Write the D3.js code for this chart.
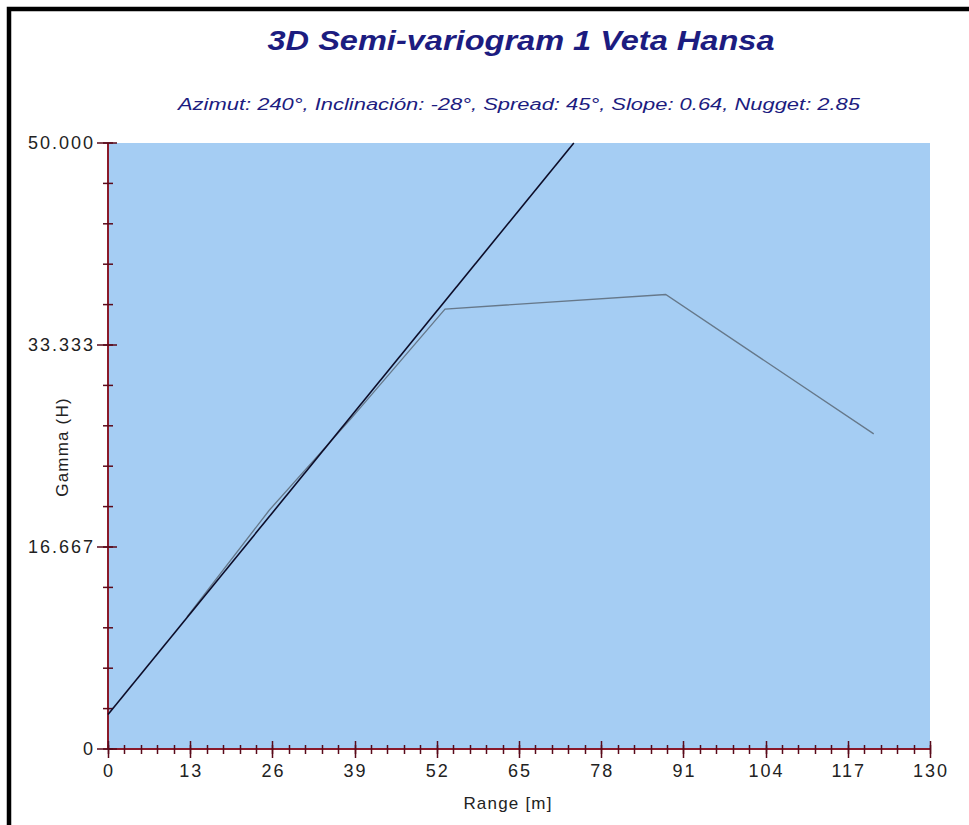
<!DOCTYPE html>
<html>
<head>
<meta charset="utf-8">
<script src="https://cdn.jsdelivr.net/npm/d3@7"></script>
<style>
  html, body { margin: 0; padding: 0; background: #ffffff; }
  svg { display: block; }
  text { font-family: "Liberation Sans", Arial, sans-serif; }
</style>
</head>
<body>
<svg id="chart" width="969" height="825"></svg>
<script>
// Semi-variogram data
const rangeTicks = [0, 13, 26, 39, 52, 65, 78, 91, 104, 117, 130];
const gammaTicks = [0, 16.667, 33.333, 50];
const gammaTickLabels = ["0", "16.667", "33.333", "50.000"];

// experimental semi-variogram (lag distance vs gamma)
const lagRange = [12.5, 25.5, 38.5, 53.3, 88.2, 121.1];
const lagGamma = [10.9, 19.7, 27.3, 36.3, 37.5, 26.0];

// fitted linear model: nugget 2.85, slope 0.64, drawn up to the top of the axis
const modelRange = [0, 73.67];
const modelGamma = [2.85, 50];

const titleText = "3D Semi-variogram 1 Veta Hansa";
const subtitleText = "Azimut: 240°, Inclinación: -28°, Spread: 45°, Slope: 0.64, Nugget: 2.85";

const svg = d3.select("#chart");

const plot = { left: 108, right: 930, top: 143, bottom: 749 };
const x = d3.scaleLinear().domain([0, 130]).range([plot.left, plot.right]);
const y = d3.scaleLinear().domain([0, 50]).range([plot.bottom, plot.top]);

// outer frame (thick black border on top and left)
svg.append("rect").attr("x", 9).attr("y", 9).attr("width", 970).attr("height", 830)
  .attr("fill", "none").attr("stroke", "#000").attr("stroke-width", 4.5);

// plot background
svg.append("rect")
  .attr("x", plot.left).attr("y", plot.top)
  .attr("width", plot.right - plot.left).attr("height", plot.bottom - plot.top)
  .attr("fill", "#a5cdf3");

// titles
const title = svg.append("text")
  .attr("x", 521).attr("y", 50).attr("text-anchor", "middle")
  .attr("font-size", 28).attr("font-weight", "bold").attr("font-style", "italic")
  .attr("fill", "#1c1c80").text(titleText);
const subtitle = svg.append("text")
  .attr("x", 519).attr("y", 110).attr("text-anchor", "middle")
  .attr("font-size", 16).attr("font-style", "italic")
  .attr("fill", "#1c1c80").text(subtitleText);

// axes
const axisColor = "#8a1a2a";
const tickColor = "#5a0a1a";

const xMinor = d3.range(0, 130.001, 2.6);
const yMinor = d3.range(0, 50.001, 50 / 15);

const axes = svg.append("g");
axes.append("line").attr("x1", plot.left).attr("x2", plot.right)
  .attr("y1", plot.bottom).attr("y2", plot.bottom)
  .attr("stroke", axisColor).attr("stroke-width", 2);
axes.append("line").attr("x1", plot.left).attr("x2", plot.left)
  .attr("y1", plot.top).attr("y2", plot.bottom)
  .attr("stroke", axisColor).attr("stroke-width", 2);

axes.selectAll("line.xminor").data(xMinor).join("line")
  .attr("class", "xminor")
  .attr("x1", d => Math.round(x(d)) + 0.5).attr("x2", d => Math.round(x(d)) + 0.5)
  .attr("y1", plot.bottom - 4).attr("y2", plot.bottom + 5)
  .attr("stroke", tickColor).attr("stroke-width", 1.5);
axes.selectAll("line.xmajor").data(rangeTicks).join("line")
  .attr("class", "xmajor")
  .attr("x1", d => Math.round(x(d)) + 0.5).attr("x2", d => Math.round(x(d)) + 0.5)
  .attr("y1", plot.bottom - 8).attr("y2", plot.bottom + 9)
  .attr("stroke", tickColor).attr("stroke-width", 1.5);

axes.selectAll("line.yminor").data(yMinor).join("line")
  .attr("class", "yminor")
  .attr("x1", plot.left - 5).attr("x2", plot.left + 5)
  .attr("y1", d => y(d)).attr("y2", d => y(d))
  .attr("stroke", tickColor).attr("stroke-width", 1.5);
axes.selectAll("line.ymajor").data(gammaTicks).join("line")
  .attr("class", "ymajor")
  .attr("x1", plot.left - 11).attr("x2", plot.left + 9)
  .attr("y1", d => y(d)).attr("y2", d => y(d))
  .attr("stroke", tickColor).attr("stroke-width", 1.5);

// tick labels
const labelColor = "#222222";
svg.selectAll("text.xlab").data(rangeTicks).join("text")
  .attr("class", "xlab")
  .attr("x", d => x(d) + 1).attr("y", plot.bottom + 28)
  .attr("text-anchor", "middle").attr("font-size", 18).attr("letter-spacing", 2)
  .attr("fill", labelColor).text(d => d);
svg.selectAll("text.ylab").data(gammaTicks).join("text")
  .attr("class", "ylab")
  .attr("x", plot.left - 13).attr("y", d => y(d) + 6)
  .attr("text-anchor", "end").attr("font-size", 18).attr("letter-spacing", 2)
  .attr("fill", labelColor).text((d, i) => gammaTickLabels[i]);

// axis titles
svg.append("text")
  .attr("x", 508).attr("y", 809).attr("text-anchor", "middle")
  .attr("font-size", 17).attr("letter-spacing", 1.2).attr("fill", labelColor).text("Range [m]");
svg.append("text")
  .attr("transform", "translate(68,447) rotate(-90)").attr("text-anchor", "middle")
  .attr("font-size", 17).attr("letter-spacing", 1.2).attr("fill", labelColor).text("Gamma (H)");

// series
const line = d3.line().x(d => x(d[0])).y(d => y(d[1]));

svg.append("path")
  .datum(d3.zip(lagRange, lagGamma))
  .attr("d", line)
  .attr("fill", "none").attr("stroke", "#66788a").attr("stroke-width", 1.3);

svg.append("path")
  .datum(d3.zip(modelRange, modelGamma))
  .attr("d", line)
  .attr("fill", "none").attr("stroke", "#0c0c28").attr("stroke-width", 1.6);

// fit the titles to their measured widths
title.attr("textLength", 507).attr("lengthAdjust", "spacingAndGlyphs");
subtitle.attr("textLength", 682).attr("lengthAdjust", "spacingAndGlyphs");
</script>
</body>
</html>
